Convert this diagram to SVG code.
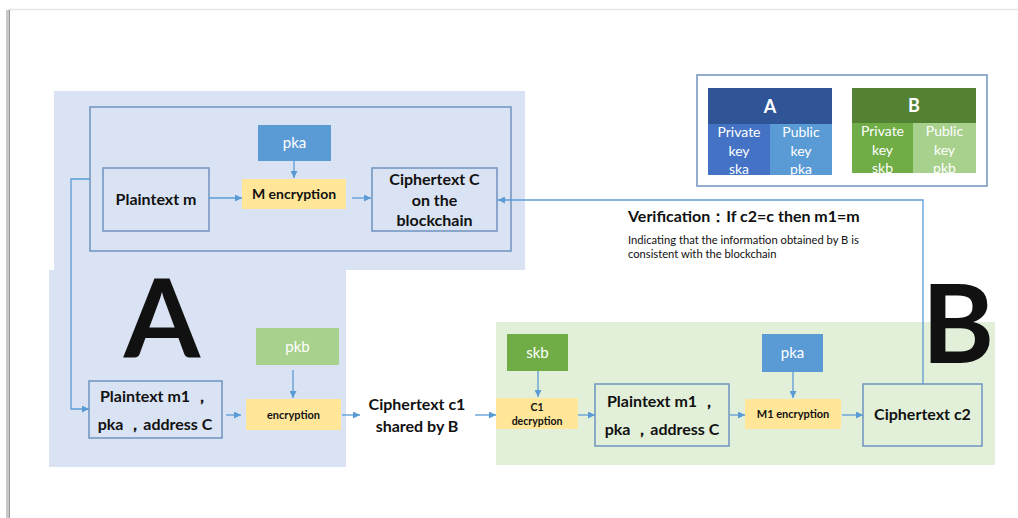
<svg xmlns="http://www.w3.org/2000/svg" width="1018" height="518" viewBox="0 0 1018 518">
<defs>
<style>
.t{font-family:Lato,"Liberation Sans",Arial,sans-serif;fill:#111;text-anchor:middle}
.s{text-anchor:start}
.b{font-weight:bold}
.w{fill:#fff}
.box{fill:none;stroke:#6F93BE;stroke-width:1.5}
.yel{fill:#FFE699}
.conn{fill:none;stroke:#5B9BD5;stroke-width:1.3}
</style>
<marker id="ah" viewBox="0 0 10 10" refX="10" refY="5" markerWidth="7" markerHeight="7" markerUnits="userSpaceOnUse" orient="auto">
<path d="M0,0 L10,5 L0,10 z" fill="#5B9BD5"/>
</marker>
</defs>
<rect x="0" y="0" width="1018" height="518" fill="#fff"/>
<g id="page">
<line x1="8" y1="9.5" x2="1018" y2="9.5" stroke="#e6e6e6" stroke-width="1.5"/>
<rect x="6" y="10" width="3" height="508" fill="#c8c8c8"/>
<rect x="9" y="10" width="1" height="508" fill="#9a9a9a"/>
</g>
<g id="regionA">
<path d="M54,91 H525 V270 H346 V467 H49 V270 H54 Z" fill="#DAE3F3"/>
<text class="t b" x="162" y="357" font-size="110">A</text>
</g>
<g id="regionB">
<rect x="496" y="322" width="499" height="143" fill="#E2F0D9"/>
<text class="t b" x="958" y="363" font-size="110">B</text>
</g>
<g id="blockchainFrame"><rect class="box" x="90" y="107" width="421" height="144"/></g>
<g id="plaintextM"><rect class="box" x="103" y="168" width="106" height="63"/><text class="t b" x="156" y="205" font-size="16">Plaintext m</text></g>
<g id="pkaTop"><rect x="258" y="125" width="73" height="36" fill="#5B9BD5"/><text class="t w" x="294.5" y="148" font-size="15">pka</text></g>
<g id="mEncryption"><rect class="yel" x="242" y="179" width="104" height="30"/><text class="t b" x="294" y="199" font-size="14">M encryption</text></g>
<g id="ciphertextC"><rect class="box" x="372" y="168" width="125" height="63"/>
<text class="t b" x="434.5" y="185" font-size="16">Ciphertext C</text>
<text class="t b" x="434.5" y="206" font-size="16">on the</text>
<text class="t b" x="434.5" y="226" font-size="16">blockchain</text></g>
<g id="legend">
<rect class="box" x="697" y="75" width="290" height="111" stroke-width="1.2"/>
<rect x="708" y="88" width="124" height="36" fill="#2F5597"/>
<rect x="708" y="124" width="62" height="51" fill="#4472C4"/>
<rect x="770" y="124" width="62" height="51" fill="#5B9BD5"/>
<text class="t b w" x="770" y="113" font-size="18">A</text>
<text class="t w" x="739" y="137" font-size="14">Private</text>
<text class="t w" x="739" y="156" font-size="14">key</text>
<text class="t w" x="739" y="174" font-size="14">ska</text>
<text class="t w" x="801" y="137" font-size="14">Public</text>
<text class="t w" x="801" y="156" font-size="14">key</text>
<text class="t w" x="801" y="174" font-size="14">pka</text>
<rect x="852" y="88" width="124" height="35" fill="#548235"/>
<rect x="852" y="123" width="61" height="50" fill="#70AD47"/>
<rect x="913" y="123" width="63" height="50" fill="#A9D18E"/>
<text class="t b w" x="914" y="112" font-size="18">B</text>
<text class="t w" x="882.5" y="136" font-size="14">Private</text>
<text class="t w" x="882.5" y="155" font-size="14">key</text>
<text class="t w" x="882.5" y="173" font-size="14">skb</text>
<text class="t w" x="944.5" y="136" font-size="14">Public</text>
<text class="t w" x="944.5" y="155" font-size="14">key</text>
<text class="t w" x="944.5" y="173" font-size="14">pkb</text>
</g>
<g id="verification">
<text class="t s b" x="628" y="222" font-size="16">Verification：If c2=c then m1=m</text>
<text class="t s" x="628" y="244" font-size="11.2">Indicating that the information obtained by B is</text>
<text class="t s" x="628" y="258" font-size="11.2">consistent with the blockchain</text>
</g>
<g id="plaintextM1A"><rect class="box" x="89" y="381" width="133" height="57"/>
<text class="t b" x="155" y="402" font-size="16">Plaintext m1 ，</text>
<text class="t b" x="155" y="430" font-size="16">pka ，address C</text></g>
<g id="pkb"><rect x="256" y="328" width="83" height="37" fill="#A9D18E"/><text class="t w" x="297.5" y="352" font-size="15">pkb</text></g>
<g id="encryption"><rect class="yel" x="246" y="399" width="95" height="31"/><text class="t b" x="293.5" y="419" font-size="11">encryption</text></g>
<g id="ciphertextC1"><text class="t b" x="417" y="410" font-size="16">Ciphertext c1</text><text class="t b" x="417" y="432" font-size="16">shared by B</text></g>
<g id="skb"><rect x="507" y="334" width="61" height="37" fill="#70AD47"/><text class="t w" x="537.5" y="358" font-size="15">skb</text></g>
<g id="c1Decryption"><rect class="yel" x="496" y="398" width="82" height="31"/>
<text class="t b" x="537" y="411" font-size="10.5">C1</text>
<text class="t b" x="537" y="425" font-size="10.5">decryption</text></g>
<g id="plaintextM1B"><rect class="box" x="595" y="384" width="134" height="62"/>
<text class="t b" x="662" y="407" font-size="16">Plaintext m1 ，</text>
<text class="t b" x="662" y="435" font-size="16">pka ，address C</text></g>
<g id="pkaB"><rect x="762" y="334" width="61" height="38" fill="#5B9BD5"/><text class="t w" x="792.5" y="358" font-size="15">pka</text></g>
<g id="m1Encryption"><rect class="yel" x="745" y="399" width="96" height="30"/><text class="t b" x="793" y="418" font-size="11">M1 encryption</text></g>
<g id="ciphertextC2"><rect class="box" x="863" y="384" width="119" height="62"/><text class="t b" x="922.5" y="420" font-size="16">Ciphertext c2</text></g>
<g id="connectors">
<line class="conn" x1="209" y1="198" x2="242" y2="198" marker-end="url(#ah)"/>
<line class="conn" x1="294" y1="161" x2="294" y2="178" marker-end="url(#ah)"/>
<line class="conn" x1="352" y1="198" x2="371" y2="198" marker-end="url(#ah)"/>
<polyline class="conn" points="923,384 923,200 498,200" marker-end="url(#ah)"/>
<polyline class="conn" points="90,179 71,179 71,409 89,409" marker-end="url(#ah)"/>
<line class="conn" x1="226" y1="415" x2="241" y2="415" marker-end="url(#ah)"/>
<line class="conn" x1="293" y1="370" x2="293" y2="398" marker-end="url(#ah)"/>
<line class="conn" x1="342" y1="415" x2="360" y2="415" marker-end="url(#ah)"/>
<line class="conn" x1="475" y1="415" x2="496" y2="415" marker-end="url(#ah)"/>
<line class="conn" x1="538" y1="371" x2="538" y2="397" marker-end="url(#ah)"/>
<line class="conn" x1="578" y1="415" x2="595" y2="415" marker-end="url(#ah)"/>
<line class="conn" x1="730" y1="415" x2="745" y2="415" marker-end="url(#ah)"/>
<line class="conn" x1="793" y1="372" x2="793" y2="398" marker-end="url(#ah)"/>
<line class="conn" x1="842" y1="415" x2="863" y2="415" marker-end="url(#ah)"/>
</g>
</svg>
